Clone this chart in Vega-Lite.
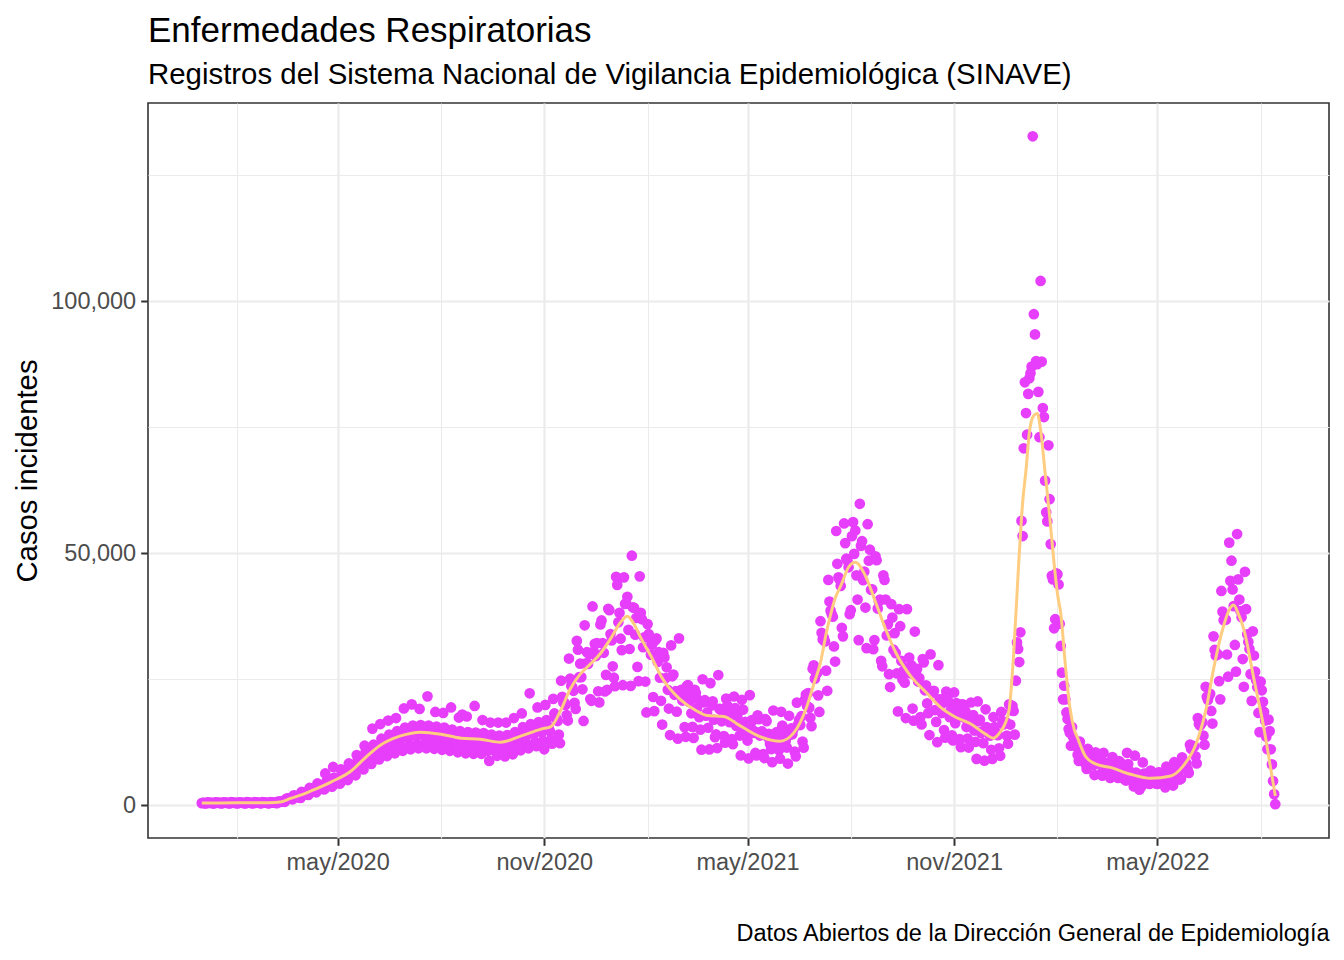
{
  "$schema": "https://vega.github.io/schema/vega-lite/v6.json",
  "width": 1181,
  "height": 735,
  "autosize": {"type": "none"},
  "padding": {"left": 148, "top": 103, "right": 15, "bottom": 122},
  "background": "white",
  "config": {
    "font": "Liberation Sans",
    "view": {"stroke": "#333333", "strokeWidth": 1.6}
  },
  "title": {
    "text": "Enfermedades Respiratorias",
    "subtitle": "Registros del Sistema Nacional de Vigilancia Epidemiológica (SINAVE)",
    "anchor": "start",
    "frame": "group",
    "font": "Liberation Sans",
    "fontSize": 35,
    "fontWeight": "normal",
    "color": "#000000",
    "subtitleFont": "Liberation Sans",
    "subtitleFontSize": 29.4,
    "subtitleColor": "#000000",
    "subtitlePadding": 12,
    "offset": 14
  },
  "datasets": {
    "pts": [
      {"d":"2020-01-01","n":420},{"d":"2020-01-02","n":480},{"d":"2020-01-03","n":470},{"d":"2020-01-04","n":390},{"d":"2020-01-05","n":350},{"d":"2020-01-06","n":560},{"d":"2020-01-07","n":520},{"d":"2020-01-08","n":490},{"d":"2020-01-09","n":470},{"d":"2020-01-10","n":450},{"d":"2020-01-11","n":380},{"d":"2020-01-12","n":350},{"d":"2020-01-13","n":580},{"d":"2020-01-14","n":530},{"d":"2020-01-15","n":500},{"d":"2020-01-16","n":480},{"d":"2020-01-17","n":460},{"d":"2020-01-18","n":400},{"d":"2020-01-19","n":360},{"d":"2020-01-20","n":590},{"d":"2020-01-21","n":540},{"d":"2020-01-22","n":510},{"d":"2020-01-23","n":490},{"d":"2020-01-24","n":470},{"d":"2020-01-25","n":400},{"d":"2020-01-26","n":360},{"d":"2020-01-27","n":600},{"d":"2020-01-28","n":550},{"d":"2020-01-29","n":510},{"d":"2020-01-30","n":490},{"d":"2020-01-31","n":470},
      {"d":"2020-02-01","n":400},{"d":"2020-02-02","n":360},{"d":"2020-02-03","n":590},{"d":"2020-02-04","n":540},{"d":"2020-02-05","n":500},{"d":"2020-02-06","n":480},{"d":"2020-02-07","n":470},{"d":"2020-02-08","n":400},{"d":"2020-02-09","n":370},{"d":"2020-02-10","n":600},{"d":"2020-02-11","n":550},{"d":"2020-02-12","n":510},{"d":"2020-02-13","n":490},{"d":"2020-02-14","n":470},{"d":"2020-02-15","n":410},{"d":"2020-02-16","n":370},{"d":"2020-02-17","n":610},{"d":"2020-02-18","n":560},{"d":"2020-02-19","n":520},{"d":"2020-02-20","n":500},{"d":"2020-02-21","n":480},{"d":"2020-02-22","n":410},{"d":"2020-02-23","n":380},{"d":"2020-02-24","n":620},{"d":"2020-02-25","n":570},{"d":"2020-02-26","n":530},{"d":"2020-02-27","n":510},{"d":"2020-02-28","n":490},{"d":"2020-02-29","n":420},
      {"d":"2020-03-01","n":380},{"d":"2020-03-02","n":640},{"d":"2020-03-03","n":580},{"d":"2020-03-04","n":540},{"d":"2020-03-05","n":530},{"d":"2020-03-06","n":520},{"d":"2020-03-07","n":450},{"d":"2020-03-08","n":420},{"d":"2020-03-09","n":720},{"d":"2020-03-10","n":700},{"d":"2020-03-11","n":680},{"d":"2020-03-12","n":720},{"d":"2020-03-13","n":760},{"d":"2020-03-14","n":700},{"d":"2020-03-15","n":680},{"d":"2020-03-16","n":1250},{"d":"2020-03-17","n":1300},{"d":"2020-03-18","n":1350},{"d":"2020-03-19","n":1400},{"d":"2020-03-20","n":1380},{"d":"2020-03-21","n":1250},{"d":"2020-03-22","n":1180},{"d":"2020-03-23","n":1950},{"d":"2020-03-24","n":1850},{"d":"2020-03-25","n":1800},{"d":"2020-03-26","n":1750},{"d":"2020-03-27","n":1700},{"d":"2020-03-28","n":1500},{"d":"2020-03-29","n":1450},{"d":"2020-03-30","n":2650},{"d":"2020-03-31","n":2400},
      {"d":"2020-04-01","n":2320},{"d":"2020-04-02","n":2330},{"d":"2020-04-03","n":2320},{"d":"2020-04-04","n":2110},{"d":"2020-04-05","n":2030},{"d":"2020-04-06","n":3430},{"d":"2020-04-07","n":3140},{"d":"2020-04-08","n":2990},{"d":"2020-04-09","n":3000},{"d":"2020-04-10","n":2980},{"d":"2020-04-11","n":2690},{"d":"2020-04-12","n":2570},{"d":"2020-04-13","n":4320},{"d":"2020-04-14","n":3920},{"d":"2020-04-15","n":3710},{"d":"2020-04-16","n":3700},{"d":"2020-04-17","n":3650},{"d":"2020-04-18","n":3280},{"d":"2020-04-19","n":3120},{"d":"2020-04-20","n":6300},{"d":"2020-04-21","n":4700},{"d":"2020-04-22","n":4430},{"d":"2020-04-23","n":4400},{"d":"2020-04-24","n":4320},{"d":"2020-04-25","n":3860},{"d":"2020-04-26","n":3670},{"d":"2020-04-27","n":7600},{"d":"2020-04-28","n":5490},{"d":"2020-04-29","n":5150},{"d":"2020-04-30","n":5100},
      {"d":"2020-05-01","n":4990},{"d":"2020-05-02","n":4480},{"d":"2020-05-03","n":4270},{"d":"2020-05-04","n":7110},{"d":"2020-05-05","n":6420},{"d":"2020-05-06","n":6050},{"d":"2020-05-07","n":6000},{"d":"2020-05-08","n":5880},{"d":"2020-05-09","n":5270},{"d":"2020-05-10","n":4990},{"d":"2020-05-11","n":8290},{"d":"2020-05-12","n":7470},{"d":"2020-05-13","n":7000},{"d":"2020-05-14","n":7000},{"d":"2020-05-15","n":6910},{"d":"2020-05-16","n":6220},{"d":"2020-05-17","n":5940},{"d":"2020-05-18","n":9940},{"d":"2020-05-19","n":9000},{"d":"2020-05-20","n":8500},{"d":"2020-05-21","n":8460},{"d":"2020-05-22","n":8320},{"d":"2020-05-23","n":7460},{"d":"2020-05-24","n":7090},{"d":"2020-05-25","n":11810},{"d":"2020-05-26","n":10640},{"d":"2020-05-27","n":9990},{"d":"2020-05-28","n":9900},{"d":"2020-05-29","n":9700},{"d":"2020-05-30","n":8650},{"d":"2020-05-31","n":8190},
      {"d":"2020-06-01","n":15200},{"d":"2020-06-02","n":12000},{"d":"2020-06-03","n":11200},{"d":"2020-06-04","n":11100},{"d":"2020-06-05","n":10800},{"d":"2020-06-06","n":9700},{"d":"2020-06-07","n":9100},{"d":"2020-06-08","n":16100},{"d":"2020-06-09","n":13200},{"d":"2020-06-10","n":12300},{"d":"2020-06-11","n":12100},{"d":"2020-06-12","n":11700},{"d":"2020-06-13","n":10400},{"d":"2020-06-14","n":9750},{"d":"2020-06-15","n":16800},{"d":"2020-06-16","n":14000},{"d":"2020-06-17","n":13100},{"d":"2020-06-18","n":12800},{"d":"2020-06-19","n":12350},{"d":"2020-06-20","n":11000},{"d":"2020-06-21","n":10300},{"d":"2020-06-22","n":17300},{"d":"2020-06-23","n":14700},{"d":"2020-06-24","n":13800},{"d":"2020-06-25","n":13500},{"d":"2020-06-26","n":13100},{"d":"2020-06-27","n":11600},{"d":"2020-06-28","n":10800},{"d":"2020-06-29","n":19200},{"d":"2020-06-30","n":15400},
      {"d":"2020-07-01","n":14300},{"d":"2020-07-02","n":14000},{"d":"2020-07-03","n":13400},{"d":"2020-07-04","n":11900},{"d":"2020-07-05","n":11100},{"d":"2020-07-06","n":20000},{"d":"2020-07-07","n":15800},{"d":"2020-07-08","n":14700},{"d":"2020-07-09","n":14300},{"d":"2020-07-10","n":13700},{"d":"2020-07-11","n":12100},{"d":"2020-07-12","n":11300},{"d":"2020-07-13","n":19100},{"d":"2020-07-14","n":15900},{"d":"2020-07-15","n":14800},{"d":"2020-07-16","n":14400},{"d":"2020-07-17","n":13800},{"d":"2020-07-18","n":12200},{"d":"2020-07-19","n":11300},{"d":"2020-07-20","n":21600},{"d":"2020-07-21","n":15800},{"d":"2020-07-22","n":14700},{"d":"2020-07-23","n":14200},{"d":"2020-07-24","n":13600},{"d":"2020-07-25","n":12000},{"d":"2020-07-26","n":11200},{"d":"2020-07-27","n":18500},{"d":"2020-07-28","n":15600},{"d":"2020-07-29","n":14500},{"d":"2020-07-30","n":14000},{"d":"2020-07-31","n":13400},
      {"d":"2020-08-01","n":11800},{"d":"2020-08-02","n":11000},{"d":"2020-08-03","n":18300},{"d":"2020-08-04","n":15400},{"d":"2020-08-05","n":14300},{"d":"2020-08-06","n":13900},{"d":"2020-08-07","n":13200},{"d":"2020-08-08","n":11600},{"d":"2020-08-09","n":10800},{"d":"2020-08-10","n":19400},{"d":"2020-08-11","n":15000},{"d":"2020-08-12","n":13900},{"d":"2020-08-13","n":13500},{"d":"2020-08-14","n":12900},{"d":"2020-08-15","n":11300},{"d":"2020-08-16","n":10500},{"d":"2020-08-17","n":17400},{"d":"2020-08-18","n":14700},{"d":"2020-08-19","n":13600},{"d":"2020-08-20","n":18000},{"d":"2020-08-21","n":12600},{"d":"2020-08-22","n":11100},{"d":"2020-08-23","n":10300},{"d":"2020-08-24","n":17600},{"d":"2020-08-25","n":14500},{"d":"2020-08-26","n":13500},{"d":"2020-08-27","n":13100},{"d":"2020-08-28","n":12500},{"d":"2020-08-29","n":11000},{"d":"2020-08-30","n":10200},{"d":"2020-08-31","n":19700},
      {"d":"2020-09-01","n":14400},{"d":"2020-09-02","n":13400},{"d":"2020-09-03","n":13000},{"d":"2020-09-04","n":12400},{"d":"2020-09-05","n":11000},{"d":"2020-09-06","n":10200},{"d":"2020-09-07","n":16900},{"d":"2020-09-08","n":14300},{"d":"2020-09-09","n":13200},{"d":"2020-09-10","n":12800},{"d":"2020-09-11","n":12200},{"d":"2020-09-12","n":10800},{"d":"2020-09-13","n":8800},{"d":"2020-09-14","n":16400},{"d":"2020-09-15","n":14000},{"d":"2020-09-16","n":12900},{"d":"2020-09-17","n":12500},{"d":"2020-09-18","n":12000},{"d":"2020-09-19","n":10600},{"d":"2020-09-20","n":9800},{"d":"2020-09-21","n":16400},{"d":"2020-09-22","n":13800},{"d":"2020-09-23","n":12800},{"d":"2020-09-24","n":12400},{"d":"2020-09-25","n":11900},{"d":"2020-09-26","n":10500},{"d":"2020-09-27","n":9700},{"d":"2020-09-28","n":16400},{"d":"2020-09-29","n":13900},{"d":"2020-09-30","n":13000},
      {"d":"2020-10-01","n":12700},{"d":"2020-10-02","n":12200},{"d":"2020-10-03","n":10800},{"d":"2020-10-04","n":10100},{"d":"2020-10-05","n":17300},{"d":"2020-10-06","n":14500},{"d":"2020-10-07","n":13600},{"d":"2020-10-08","n":13400},{"d":"2020-10-09","n":13000},{"d":"2020-10-10","n":11600},{"d":"2020-10-11","n":10900},{"d":"2020-10-12","n":18200},{"d":"2020-10-13","n":15500},{"d":"2020-10-14","n":14400},{"d":"2020-10-15","n":14200},{"d":"2020-10-16","n":13700},{"d":"2020-10-17","n":12100},{"d":"2020-10-18","n":11300},{"d":"2020-10-19","n":22200},{"d":"2020-10-20","n":16100},{"d":"2020-10-21","n":14900},{"d":"2020-10-22","n":14600},{"d":"2020-10-23","n":14100},{"d":"2020-10-24","n":12500},{"d":"2020-10-25","n":11700},{"d":"2020-10-26","n":19400},{"d":"2020-10-27","n":16500},{"d":"2020-10-28","n":15300},{"d":"2020-10-29","n":15000},{"d":"2020-10-30","n":14500},{"d":"2020-10-31","n":12800},
      {"d":"2020-11-01","n":11100},{"d":"2020-11-02","n":19900},{"d":"2020-11-03","n":16900},{"d":"2020-11-04","n":15700},{"d":"2020-11-05","n":15300},{"d":"2020-11-06","n":14700},{"d":"2020-11-07","n":13000},{"d":"2020-11-08","n":12200},{"d":"2020-11-09","n":21100},{"d":"2020-11-10","n":18200},{"d":"2020-11-11","n":17400},{"d":"2020-11-12","n":17100},{"d":"2020-11-13","n":16700},{"d":"2020-11-14","n":14000},{"d":"2020-11-15","n":12300},{"d":"2020-11-16","n":24700},{"d":"2020-11-17","n":21500},{"d":"2020-11-18","n":20400},{"d":"2020-11-19","n":20300},{"d":"2020-11-20","n":19900},{"d":"2020-11-21","n":17900},{"d":"2020-11-22","n":16800},{"d":"2020-11-23","n":29100},{"d":"2020-11-24","n":25100},{"d":"2020-11-25","n":23700},{"d":"2020-11-26","n":23400},{"d":"2020-11-27","n":22700},{"d":"2020-11-28","n":20300},{"d":"2020-11-29","n":19100},{"d":"2020-11-30","n":32600},
      {"d":"2020-12-01","n":30850},{"d":"2020-12-02","n":25390},{"d":"2020-12-03","n":28080},{"d":"2020-12-04","n":25410},{"d":"2020-12-05","n":23000},{"d":"2020-12-06","n":16720},{"d":"2020-12-07","n":35700},{"d":"2020-12-08","n":28120},{"d":"2020-12-09","n":30350},{"d":"2020-12-10","n":28030},{"d":"2020-12-11","n":30020},{"d":"2020-12-12","n":21060},{"d":"2020-12-13","n":20710},{"d":"2020-12-14","n":39430},{"d":"2020-12-15","n":30500},{"d":"2020-12-16","n":32030},{"d":"2020-12-17","n":29590},{"d":"2020-12-18","n":32160},{"d":"2020-12-19","n":22610},{"d":"2020-12-20","n":20400},{"d":"2020-12-21","n":35850},{"d":"2020-12-22","n":36650},{"d":"2020-12-23","n":32140},{"d":"2020-12-24","n":30240},{"d":"2020-12-25","n":22560},{"d":"2020-12-26","n":25860},{"d":"2020-12-27","n":22900},{"d":"2020-12-28","n":38970},{"d":"2020-12-29","n":38690},{"d":"2020-12-30","n":33950},{"d":"2020-12-31","n":32700},
      {"d":"2021-01-01","n":27560},{"d":"2021-01-02","n":25300},{"d":"2021-01-03","n":23610},{"d":"2021-01-04","n":45300},{"d":"2021-01-05","n":43710},{"d":"2021-01-06","n":36290},{"d":"2021-01-07","n":38150},{"d":"2021-01-08","n":33030},{"d":"2021-01-09","n":30770},{"d":"2021-01-10","n":23810},{"d":"2021-01-11","n":45200},{"d":"2021-01-12","n":39950},{"d":"2021-01-13","n":40000},{"d":"2021-01-14","n":41340},{"d":"2021-01-15","n":34780},{"d":"2021-01-16","n":30990},{"d":"2021-01-17","n":23670},{"d":"2021-01-18","n":49500},{"d":"2021-01-19","n":39240},{"d":"2021-01-20","n":39170},{"d":"2021-01-21","n":33850},{"d":"2021-01-22","n":37170},{"d":"2021-01-23","n":27440},{"d":"2021-01-24","n":24620},{"d":"2021-01-25","n":45400},{"d":"2021-01-26","n":38180},{"d":"2021-01-27","n":36890},{"d":"2021-01-28","n":31340},{"d":"2021-01-29","n":33280},{"d":"2021-01-30","n":24540},{"d":"2021-01-31","n":18400},
      {"d":"2021-02-01","n":35930},{"d":"2021-02-02","n":33950},{"d":"2021-02-03","n":33070},{"d":"2021-02-04","n":29880},{"d":"2021-02-05","n":31830},{"d":"2021-02-06","n":21470},{"d":"2021-02-07","n":18670},{"d":"2021-02-08","n":32760},{"d":"2021-02-09","n":33080},{"d":"2021-02-10","n":28420},{"d":"2021-02-11","n":30350},{"d":"2021-02-12","n":25290},{"d":"2021-02-13","n":20710},{"d":"2021-02-14","n":16000},{"d":"2021-02-15","n":30230},{"d":"2021-02-16","n":29330},{"d":"2021-02-17","n":25220},{"d":"2021-02-18","n":27360},{"d":"2021-02-19","n":22900},{"d":"2021-02-20","n":19180},{"d":"2021-02-21","n":13920},{"d":"2021-02-22","n":31710},{"d":"2021-02-23","n":25580},{"d":"2021-02-24","n":25920},{"d":"2021-02-25","n":21900},{"d":"2021-02-26","n":22620},{"d":"2021-02-27","n":18550},{"d":"2021-02-28","n":13210},
      {"d":"2021-03-01","n":33100},{"d":"2021-03-02","n":22320},{"d":"2021-03-03","n":22880},{"d":"2021-03-04","n":20760},{"d":"2021-03-05","n":22350},{"d":"2021-03-06","n":15490},{"d":"2021-03-07","n":13570},{"d":"2021-03-08","n":23660},{"d":"2021-03-09","n":23840},{"d":"2021-03-10","n":20480},{"d":"2021-03-11","n":21920},{"d":"2021-03-12","n":18240},{"d":"2021-03-13","n":15550},{"d":"2021-03-14","n":13360},{"d":"2021-03-15","n":22880},{"d":"2021-03-16","n":22260},{"d":"2021-03-17","n":19210},{"d":"2021-03-18","n":20930},{"d":"2021-03-19","n":17480},{"d":"2021-03-20","n":14990},{"d":"2021-03-21","n":11010},{"d":"2021-03-22","n":24990},{"d":"2021-03-23","n":20380},{"d":"2021-03-24","n":20840},{"d":"2021-03-25","n":17770},{"d":"2021-03-26","n":18380},{"d":"2021-03-27","n":15370},{"d":"2021-03-28","n":11070},{"d":"2021-03-29","n":24230},{"d":"2021-03-30","n":19790},{"d":"2021-03-31","n":20600},
      {"d":"2021-04-01","n":16960},{"d":"2021-04-02","n":13490},{"d":"2021-04-03","n":14040},{"d":"2021-04-04","n":11350},{"d":"2021-04-05","n":25830},{"d":"2021-04-06","n":19100},{"d":"2021-04-07","n":19070},{"d":"2021-04-08","n":16650},{"d":"2021-04-09","n":18380},{"d":"2021-04-10","n":13720},{"d":"2021-04-11","n":12420},{"d":"2021-04-12","n":21150},{"d":"2021-04-13","n":19800},{"d":"2021-04-14","n":19190},{"d":"2021-04-15","n":16460},{"d":"2021-04-16","n":17630},{"d":"2021-04-17","n":13100},{"d":"2021-04-18","n":12100},{"d":"2021-04-19","n":21570},{"d":"2021-04-20","n":19280},{"d":"2021-04-21","n":15740},{"d":"2021-04-22","n":17750},{"d":"2021-04-23","n":15880},{"d":"2021-04-24","n":13820},{"d":"2021-04-25","n":9870},{"d":"2021-04-26","n":20910},{"d":"2021-04-27","n":18970},{"d":"2021-04-28","n":15250},{"d":"2021-04-29","n":16540},{"d":"2021-04-30","n":14740},
      {"d":"2021-05-01","n":12830},{"d":"2021-05-02","n":9300},{"d":"2021-05-03","n":21840},{"d":"2021-05-04","n":16300},{"d":"2021-05-05","n":16900},{"d":"2021-05-06","n":14350},{"d":"2021-05-07","n":14690},{"d":"2021-05-08","n":10370},{"d":"2021-05-09","n":9870},{"d":"2021-05-10","n":17840},{"d":"2021-05-11","n":17060},{"d":"2021-05-12","n":13820},{"d":"2021-05-13","n":14540},{"d":"2021-05-14","n":14630},{"d":"2021-05-15","n":10140},{"d":"2021-05-16","n":9360},{"d":"2021-05-17","n":17070},{"d":"2021-05-18","n":16680},{"d":"2021-05-19","n":13490},{"d":"2021-05-20","n":14180},{"d":"2021-05-21","n":12190},{"d":"2021-05-22","n":11130},{"d":"2021-05-23","n":8530},{"d":"2021-05-24","n":18790},{"d":"2021-05-25","n":14100},{"d":"2021-05-26","n":14140},{"d":"2021-05-27","n":14520},{"d":"2021-05-28","n":12280},{"d":"2021-05-29","n":10920},{"d":"2021-05-30","n":9220},{"d":"2021-05-31","n":18530},
      {"d":"2021-06-01","n":15790},{"d":"2021-06-02","n":12930},{"d":"2021-06-03","n":14140},{"d":"2021-06-04","n":12710},{"d":"2021-06-05","n":11450},{"d":"2021-06-06","n":8270},{"d":"2021-06-07","n":17750},{"d":"2021-06-08","n":14010},{"d":"2021-06-09","n":15230},{"d":"2021-06-10","n":14110},{"d":"2021-06-11","n":15120},{"d":"2021-06-12","n":10620},{"d":"2021-06-13","n":9700},{"d":"2021-06-14","n":20350},{"d":"2021-06-15","n":16000},{"d":"2021-06-16","n":16950},{"d":"2021-06-17","n":15910},{"d":"2021-06-18","n":17660},{"d":"2021-06-19","n":12640},{"d":"2021-06-20","n":11420},{"d":"2021-06-21","n":20930},{"d":"2021-06-22","n":21950},{"d":"2021-06-23","n":19700},{"d":"2021-06-24","n":22250},{"d":"2021-06-25","n":19360},{"d":"2021-06-26","n":17370},{"d":"2021-06-27","n":15690},{"d":"2021-06-28","n":27060},{"d":"2021-06-29","n":27770},{"d":"2021-06-30","n":25120},
      {"d":"2021-07-01","n":26300},{"d":"2021-07-02","n":26200},{"d":"2021-07-03","n":21800},{"d":"2021-07-04","n":18500},{"d":"2021-07-05","n":36500},{"d":"2021-07-06","n":34200},{"d":"2021-07-07","n":32900},{"d":"2021-07-08","n":33200},{"d":"2021-07-09","n":32500},{"d":"2021-07-10","n":26700},{"d":"2021-07-11","n":22700},{"d":"2021-07-12","n":44700},{"d":"2021-07-13","n":40400},{"d":"2021-07-14","n":38600},{"d":"2021-07-15","n":37900},{"d":"2021-07-16","n":37400},{"d":"2021-07-17","n":31500},{"d":"2021-07-18","n":28500},{"d":"2021-07-19","n":54400},{"d":"2021-07-20","n":47900},{"d":"2021-07-21","n":45200},{"d":"2021-07-22","n":44800},{"d":"2021-07-23","n":43500},{"d":"2021-07-24","n":35200},{"d":"2021-07-25","n":33500},{"d":"2021-07-26","n":55900},{"d":"2021-07-27","n":52000},{"d":"2021-07-28","n":48900},{"d":"2021-07-29","n":48500},{"d":"2021-07-30","n":47200},{"d":"2021-07-31","n":37900},
      {"d":"2021-08-01","n":38690},{"d":"2021-08-02","n":53380},{"d":"2021-08-03","n":56160},{"d":"2021-08-04","n":49860},{"d":"2021-08-05","n":54500},{"d":"2021-08-06","n":45600},{"d":"2021-08-07","n":40800},{"d":"2021-08-08","n":32760},{"d":"2021-08-09","n":59800},{"d":"2021-08-10","n":51450},{"d":"2021-08-11","n":52380},{"d":"2021-08-12","n":44650},{"d":"2021-08-13","n":46360},{"d":"2021-08-14","n":39220},{"d":"2021-08-15","n":31160},{"d":"2021-08-16","n":55740},{"d":"2021-08-17","n":48500},{"d":"2021-08-18","n":50690},{"d":"2021-08-19","n":42750},{"d":"2021-08-20","n":42840},{"d":"2021-08-21","n":30940},{"d":"2021-08-22","n":32760},{"d":"2021-08-23","n":49390},{"d":"2021-08-24","n":48600},{"d":"2021-08-25","n":39010},{"d":"2021-08-26","n":40400},{"d":"2021-08-27","n":40810},{"d":"2021-08-28","n":28640},{"d":"2021-08-29","n":27560},{"d":"2021-08-30","n":45590},{"d":"2021-08-31","n":44690},
      {"d":"2021-09-01","n":40810},{"d":"2021-09-02","n":33670},{"d":"2021-09-03","n":35880},{"d":"2021-09-04","n":26000},{"d":"2021-09-05","n":23440},{"d":"2021-09-06","n":39900},{"d":"2021-09-07","n":37230},{"d":"2021-09-08","n":30850},{"d":"2021-09-09","n":34130},{"d":"2021-09-10","n":30180},{"d":"2021-09-11","n":26140},{"d":"2021-09-12","n":18610},{"d":"2021-09-13","n":38890},{"d":"2021-09-14","n":35510},{"d":"2021-09-15","n":28640},{"d":"2021-09-16","n":24960},{"d":"2021-09-17","n":26680},{"d":"2021-09-18","n":24310},{"d":"2021-09-19","n":17290},{"d":"2021-09-20","n":38900},{"d":"2021-09-21","n":27300},{"d":"2021-09-22","n":29300},{"d":"2021-09-23","n":26170},{"d":"2021-09-24","n":27760},{"d":"2021-09-25","n":19180},{"d":"2021-09-26","n":16770},{"d":"2021-09-27","n":34450},{"d":"2021-09-28","n":26230},{"d":"2021-09-29","n":27040},{"d":"2021-09-30","n":24540},
      {"d":"2021-10-01","n":25230},{"d":"2021-10-02","n":17480},{"d":"2021-10-03","n":16020},{"d":"2021-10-04","n":29000},{"d":"2021-10-05","n":28340},{"d":"2021-10-06","n":22800},{"d":"2021-10-07","n":23770},{"d":"2021-10-08","n":20200},{"d":"2021-10-09","n":18270},{"d":"2021-10-10","n":13920},{"d":"2021-10-11","n":29920},{"d":"2021-10-12","n":22560},{"d":"2021-10-13","n":22320},{"d":"2021-10-14","n":22680},{"d":"2021-10-15","n":18880},{"d":"2021-10-16","n":16540},{"d":"2021-10-17","n":12510},{"d":"2021-10-18","n":27800},{"d":"2021-10-19","n":21000},{"d":"2021-10-20","n":21010},{"d":"2021-10-21","n":18290},{"d":"2021-10-22","n":20270},{"d":"2021-10-23","n":14900},{"d":"2021-10-24","n":13390},{"d":"2021-10-25","n":22560},{"d":"2021-10-26","n":21210},{"d":"2021-10-27","n":20460},{"d":"2021-10-28","n":17480},{"d":"2021-10-29","n":18820},{"d":"2021-10-30","n":13870},{"d":"2021-10-31","n":12860},
      {"d":"2021-11-01","n":22370},{"d":"2021-11-02","n":16280},{"d":"2021-11-03","n":20280},{"d":"2021-11-04","n":17460},{"d":"2021-11-05","n":18860},{"d":"2021-11-06","n":13110},{"d":"2021-11-07","n":11530},{"d":"2021-11-08","n":20020},{"d":"2021-11-09","n":19950},{"d":"2021-11-10","n":17350},{"d":"2021-11-11","n":18680},{"d":"2021-11-12","n":15510},{"d":"2021-11-13","n":13230},{"d":"2021-11-14","n":11450},{"d":"2021-11-15","n":16550},{"d":"2021-11-16","n":20380},{"d":"2021-11-17","n":16390},{"d":"2021-11-18","n":17880},{"d":"2021-11-19","n":14820},{"d":"2021-11-20","n":12550},{"d":"2021-11-21","n":9190},{"d":"2021-11-22","n":20580},{"d":"2021-11-23","n":16660},{"d":"2021-11-24","n":16960},{"d":"2021-11-25","n":14290},{"d":"2021-11-26","n":14650},{"d":"2021-11-27","n":12300},{"d":"2021-11-28","n":8840},{"d":"2021-11-29","n":19030},{"d":"2021-11-30","n":15520},
      {"d":"2021-12-01","n":14600},{"d":"2021-12-02","n":14300},{"d":"2021-12-03","n":13800},{"d":"2021-12-04","n":11000},{"d":"2021-12-05","n":9200},{"d":"2021-12-06","n":17500},{"d":"2021-12-07","n":15500},{"d":"2021-12-08","n":14400},{"d":"2021-12-09","n":14200},{"d":"2021-12-10","n":13900},{"d":"2021-12-11","n":11300},{"d":"2021-12-12","n":9800},{"d":"2021-12-13","n":18500},{"d":"2021-12-14","n":16700},{"d":"2021-12-15","n":16000},{"d":"2021-12-16","n":16300},{"d":"2021-12-17","n":16500},{"d":"2021-12-18","n":13800},{"d":"2021-12-19","n":12200},{"d":"2021-12-20","n":20000},{"d":"2021-12-21","n":16000},{"d":"2021-12-22","n":18800},{"d":"2021-12-23","n":19700},{"d":"2021-12-24","n":18700},{"d":"2021-12-25","n":14000},{"d":"2021-12-26","n":24700},{"d":"2021-12-27","n":32300},{"d":"2021-12-28","n":31000},{"d":"2021-12-29","n":28400},{"d":"2021-12-30","n":34300},{"d":"2021-12-31","n":56400},
      {"d":"2022-01-01","n":53400},{"d":"2022-01-02","n":70800},{"d":"2022-01-03","n":83900},{"d":"2022-01-04","n":77800},{"d":"2022-01-05","n":73500},{"d":"2022-01-06","n":81600},{"d":"2022-01-07","n":84700},{"d":"2022-01-08","n":85700},{"d":"2022-01-09","n":87000},{"d":"2022-01-10","n":132700},{"d":"2022-01-11","n":97400},{"d":"2022-01-12","n":93400},{"d":"2022-01-13","n":88100},{"d":"2022-01-14","n":87500},{"d":"2022-01-15","n":82000},{"d":"2022-01-16","n":73000},{"d":"2022-01-17","n":104000},{"d":"2022-01-18","n":88000},{"d":"2022-01-19","n":78800},{"d":"2022-01-20","n":77000},{"d":"2022-01-21","n":64400},{"d":"2022-01-22","n":58100},{"d":"2022-01-23","n":56300},{"d":"2022-01-24","n":71400},{"d":"2022-01-25","n":60700},{"d":"2022-01-26","n":51800},{"d":"2022-01-27","n":45500},{"d":"2022-01-28","n":44800},{"d":"2022-01-29","n":35100},{"d":"2022-01-30","n":36900},{"d":"2022-01-31","n":46000},
      {"d":"2022-02-01","n":45800},{"d":"2022-02-02","n":43800},{"d":"2022-02-03","n":36000},{"d":"2022-02-04","n":31600},{"d":"2022-02-05","n":26300},{"d":"2022-02-06","n":21000},{"d":"2022-02-07","n":23700},{"d":"2022-02-08","n":21000},{"d":"2022-02-09","n":18400},{"d":"2022-02-10","n":17100},{"d":"2022-02-11","n":15100},{"d":"2022-02-12","n":14400},{"d":"2022-02-13","n":11800},{"d":"2022-02-14","n":15500},{"d":"2022-02-15","n":13500},{"d":"2022-02-16","n":12800},{"d":"2022-02-17","n":12200},{"d":"2022-02-18","n":11600},{"d":"2022-02-19","n":10000},{"d":"2022-02-20","n":8800},{"d":"2022-02-21","n":12600},{"d":"2022-02-22","n":11100},{"d":"2022-02-23","n":10500},{"d":"2022-02-24","n":10100},{"d":"2022-02-25","n":9700},{"d":"2022-02-26","n":8200},{"d":"2022-02-27","n":7200},{"d":"2022-02-28","n":11200},
      {"d":"2022-03-01","n":10490},{"d":"2022-03-02","n":8740},{"d":"2022-03-03","n":9460},{"d":"2022-03-04","n":8630},{"d":"2022-03-05","n":7960},{"d":"2022-03-06","n":5990},{"d":"2022-03-07","n":10510},{"d":"2022-03-08","n":8370},{"d":"2022-03-09","n":9030},{"d":"2022-03-10","n":8230},{"d":"2022-03-11","n":8750},{"d":"2022-03-12","n":6300},{"d":"2022-03-13","n":5860},{"d":"2022-03-14","n":10390},{"d":"2022-03-15","n":8280},{"d":"2022-03-16","n":8420},{"d":"2022-03-17","n":7660},{"d":"2022-03-18","n":8280},{"d":"2022-03-19","n":5890},{"d":"2022-03-20","n":5410},{"d":"2022-03-21","n":6920},{"d":"2022-03-22","n":9560},{"d":"2022-03-23","n":7840},{"d":"2022-03-24","n":8320},{"d":"2022-03-25","n":6960},{"d":"2022-03-26","n":6060},{"d":"2022-03-27","n":5410},{"d":"2022-03-28","n":8740},{"d":"2022-03-29","n":8530},{"d":"2022-03-30","n":7280},{"d":"2022-03-31","n":7850},
      {"d":"2022-04-01","n":7000},{"d":"2022-04-02","n":5120},{"d":"2022-04-03","n":4890},{"d":"2022-04-04","n":10400},{"d":"2022-04-05","n":8180},{"d":"2022-04-06","n":6460},{"d":"2022-04-07","n":6630},{"d":"2022-04-08","n":5640},{"d":"2022-04-09","n":5250},{"d":"2022-04-10","n":3720},{"d":"2022-04-11","n":9830},{"d":"2022-04-12","n":6490},{"d":"2022-04-13","n":6060},{"d":"2022-04-14","n":3800},{"d":"2022-04-15","n":3070},{"d":"2022-04-16","n":4370},{"d":"2022-04-17","n":3780},{"d":"2022-04-18","n":8500},{"d":"2022-04-19","n":6270},{"d":"2022-04-20","n":6220},{"d":"2022-04-21","n":5280},{"d":"2022-04-22","n":5780},{"d":"2022-04-23","n":4410},{"d":"2022-04-24","n":4210},{"d":"2022-04-25","n":6860},{"d":"2022-04-26","n":6460},{"d":"2022-04-27","n":6150},{"d":"2022-04-28","n":5210},{"d":"2022-04-29","n":5620},{"d":"2022-04-30","n":4270},
      {"d":"2022-05-01","n":4240},{"d":"2022-05-02","n":6510},{"d":"2022-05-03","n":6450},{"d":"2022-05-04","n":5530},{"d":"2022-05-05","n":5230},{"d":"2022-05-06","n":4940},{"d":"2022-05-07","n":4490},{"d":"2022-05-08","n":3550},{"d":"2022-05-09","n":7670},{"d":"2022-05-10","n":5680},{"d":"2022-05-11","n":6370},{"d":"2022-05-12","n":5450},{"d":"2022-05-13","n":5660},{"d":"2022-05-14","n":4980},{"d":"2022-05-15","n":3910},{"d":"2022-05-16","n":8530},{"d":"2022-05-17","n":6790},{"d":"2022-05-18","n":7190},{"d":"2022-05-19","n":6270},{"d":"2022-05-20","n":6630},{"d":"2022-05-21","n":5100},{"d":"2022-05-22","n":5250},{"d":"2022-05-23","n":9500},{"d":"2022-05-24","n":8400},{"d":"2022-05-25","n":8100},{"d":"2022-05-26","n":8200},{"d":"2022-05-27","n":8300},{"d":"2022-05-28","n":7100},{"d":"2022-05-29","n":6400},{"d":"2022-05-30","n":12000},{"d":"2022-05-31","n":11200},
      {"d":"2022-06-01","n":11700},{"d":"2022-06-02","n":11800},{"d":"2022-06-03","n":11700},{"d":"2022-06-04","n":9700},{"d":"2022-06-05","n":8300},{"d":"2022-06-06","n":17300},{"d":"2022-06-07","n":16100},{"d":"2022-06-08","n":15800},{"d":"2022-06-09","n":16200},{"d":"2022-06-10","n":16500},{"d":"2022-06-11","n":13800},{"d":"2022-06-12","n":12000},{"d":"2022-06-13","n":23500},{"d":"2022-06-14","n":21500},{"d":"2022-06-15","n":20900},{"d":"2022-06-16","n":21700},{"d":"2022-06-17","n":22100},{"d":"2022-06-18","n":18700},{"d":"2022-06-19","n":16200},{"d":"2022-06-20","n":33500},{"d":"2022-06-21","n":30800},{"d":"2022-06-22","n":29700},{"d":"2022-06-23","n":30100},{"d":"2022-06-24","n":29900},{"d":"2022-06-25","n":24600},{"d":"2022-06-26","n":21000},{"d":"2022-06-27","n":42500},{"d":"2022-06-28","n":38400},{"d":"2022-06-29","n":36700},{"d":"2022-06-30","n":37000},
      {"d":"2022-07-01","n":36800},{"d":"2022-07-02","n":29900},{"d":"2022-07-03","n":25500},{"d":"2022-07-04","n":52100},{"d":"2022-07-05","n":44500},{"d":"2022-07-06","n":48500},{"d":"2022-07-07","n":42800},{"d":"2022-07-08","n":39500},{"d":"2022-07-09","n":31800},{"d":"2022-07-10","n":26500},{"d":"2022-07-11","n":53800},{"d":"2022-07-12","n":44800},{"d":"2022-07-13","n":40800},{"d":"2022-07-14","n":38500},{"d":"2022-07-15","n":37300},{"d":"2022-07-16","n":29000},{"d":"2022-07-17","n":23500},{"d":"2022-07-18","n":46300},{"d":"2022-07-19","n":38900},{"d":"2022-07-20","n":33900},{"d":"2022-07-21","n":32400},{"d":"2022-07-22","n":31000},{"d":"2022-07-23","n":26000},{"d":"2022-07-24","n":20700},{"d":"2022-07-25","n":34500},{"d":"2022-07-26","n":29700},{"d":"2022-07-27","n":26500},{"d":"2022-07-28","n":24800},{"d":"2022-07-29","n":23400},{"d":"2022-07-30","n":18300},{"d":"2022-07-31","n":14500},
      {"d":"2022-08-01","n":24500},{"d":"2022-08-02","n":22800},{"d":"2022-08-03","n":20500},{"d":"2022-08-04","n":18500},{"d":"2022-08-05","n":16800},{"d":"2022-08-06","n":13600},{"d":"2022-08-07","n":11100},{"d":"2022-08-08","n":17000},{"d":"2022-08-09","n":14700},{"d":"2022-08-10","n":11100},{"d":"2022-08-11","n":8100},{"d":"2022-08-12","n":4800},{"d":"2022-08-13","n":2200},{"d":"2022-08-14","n":200}
    ],
    "fit": [
      {"d":"2020-01-01","s":450},{"d":"2020-02-01","s":470},{"d":"2020-03-01","s":490},{"d":"2020-03-11","s":650},{"d":"2020-03-20","s":1350},{"d":"2020-03-31","s":2150},{"d":"2020-04-07","s":2800},{"d":"2020-04-25","s":4600},{"d":"2020-05-13","s":6800},{"d":"2020-05-26","s":9500},{"d":"2020-06-08","s":11900},{"d":"2020-06-26","s":13750},{"d":"2020-07-14","s":14500},{"d":"2020-08-01","s":14100},{"d":"2020-08-19","s":13300},{"d":"2020-09-05","s":13100},{"d":"2020-09-23","s":12500},{"d":"2020-10-11","s":13700},{"d":"2020-10-29","s":15100},{"d":"2020-11-07","s":15600},{"d":"2020-11-16","s":19000},{"d":"2020-11-24","s":23000},{"d":"2020-12-03","s":26000},{"d":"2020-12-12","s":28000},{"d":"2020-12-21","s":30100},{"d":"2020-12-30","s":33000},
      {"d":"2021-01-08","s":36300},{"d":"2021-01-14","s":37500},{"d":"2021-01-20","s":35900},{"d":"2021-01-26","s":33200},{"d":"2021-02-04","s":29600},{"d":"2021-02-13","s":25600},{"d":"2021-03-02","s":21000},{"d":"2021-03-16","s":18800},{"d":"2021-03-26","s":17800},{"d":"2021-04-10","s":17600},{"d":"2021-04-22","s":16100},{"d":"2021-05-10","s":13800},{"d":"2021-05-30","s":12700},{"d":"2021-06-11","s":14300},{"d":"2021-06-23","s":19700},{"d":"2021-06-29","s":24000},{"d":"2021-07-05","s":28300},{"d":"2021-07-10","s":34000},{"d":"2021-07-14","s":37800},{"d":"2021-07-18","s":41000},{"d":"2021-07-23","s":43500},{"d":"2021-07-30","s":47200},{"d":"2021-08-05","s":48200},{"d":"2021-08-14","s":45500},{"d":"2021-08-23","s":40300},{"d":"2021-09-01","s":34900},{"d":"2021-09-10","s":30300},{"d":"2021-09-23","s":25700},{"d":"2021-10-07","s":22400},{"d":"2021-10-20","s":19400},{"d":"2021-11-02","s":17500},{"d":"2021-11-16","s":16100},{"d":"2021-11-29","s":14100},{"d":"2021-12-06","s":13300},{"d":"2021-12-12","s":14500},{"d":"2021-12-16","s":16000},{"d":"2021-12-20","s":19000},{"d":"2021-12-24","s":30000},{"d":"2021-12-28","s":46000},
      {"d":"2022-01-01","s":60000},{"d":"2022-01-04","s":66500},{"d":"2022-01-07","s":74000},{"d":"2022-01-11","s":77300},{"d":"2022-01-14","s":77700},{"d":"2022-01-17","s":74500},{"d":"2022-01-21","s":66000},{"d":"2022-01-25","s":57500},{"d":"2022-01-29","s":48000},{"d":"2022-02-01","s":42000},{"d":"2022-02-04","s":38000},{"d":"2022-02-08","s":28000},{"d":"2022-02-12","s":19500},{"d":"2022-02-16","s":15000},{"d":"2022-02-19","s":13300},{"d":"2022-02-26","s":9700},{"d":"2022-03-08","s":8100},{"d":"2022-03-20","s":7500},{"d":"2022-04-07","s":6150},{"d":"2022-04-25","s":5350},{"d":"2022-05-13","s":5800},{"d":"2022-05-24","s":7800},{"d":"2022-06-05","s":12500},{"d":"2022-06-14","s":19700},{"d":"2022-06-20","s":27000},{"d":"2022-06-29","s":35600},{"d":"2022-07-04","s":38800},{"d":"2022-07-08","s":39700},{"d":"2022-07-12","s":38000},{"d":"2022-07-17","s":34900},{"d":"2022-07-26","s":25000},{"d":"2022-08-04","s":15100},{"d":"2022-08-09","s":8500},{"d":"2022-08-14","s":1850}
    ]
  },
  "layer": [
    {
      "data": {"name": "pts"},
      "mark": {"type": "circle", "size": 115, "color": "#E63EFB", "opacity": 1},
      "encoding": {
        "x": {
          "field": "d",
          "type": "temporal",
          "scale": {
            "type": "utc",
            "domain": [
              {"year": 2019, "month": 11, "date": 14, "hours": 3, "utc": true},
              {"year": 2022, "month": 9, "date": 30, "hours": 20, "utc": true}
            ]
          },
          "axis": {
            "title": "Datos Abiertos de la Dirección General de Epidemiología",
            "titleAnchor": "end",
            "titleFontSize": 23.5,
            "titleFontWeight": "normal",
            "titleColor": "#000000",
            "titlePadding": 48,
            "values": [
              {"year": 2020, "month": 2, "date": 1, "utc": true},
              {"year": 2020, "month": 5, "date": 1, "utc": true},
              {"year": 2020, "month": 8, "date": 1, "utc": true},
              {"year": 2020, "month": 11, "date": 1, "utc": true},
              {"year": 2021, "month": 2, "date": 1, "utc": true},
              {"year": 2021, "month": 5, "date": 1, "utc": true},
              {"year": 2021, "month": 8, "date": 1, "utc": true},
              {"year": 2021, "month": 11, "date": 1, "utc": true},
              {"year": 2022, "month": 2, "date": 1, "utc": true},
              {"year": 2022, "month": 5, "date": 1, "utc": true},
              {"year": 2022, "month": 8, "date": 1, "utc": true}
            ],
            "labelExpr": "utcmonth(datum.value) == 4 ? 'may/' + utcyear(datum.value) : utcmonth(datum.value) == 10 ? 'nov/' + utcyear(datum.value) : ''",
            "labelFontSize": 23.5,
            "labelColor": "#4D4D4D",
            "labelPadding": 5,
            "labelOverlap": false,
            "labelFlush": false,
            "tickSize": 7.3,
            "tickWidth": 2,
            "tickColor": {"condition": {"test": "utcmonth(datum.value) == 1 || utcmonth(datum.value) == 7", "value": "transparent"}, "value": "#333333"},
            "gridColor": "#EBEBEB",
            "gridWidth": {"condition": {"test": "utcmonth(datum.value) == 1 || utcmonth(datum.value) == 7", "value": 1.1}, "value": 2.2},
            "domain": false
          }
        },
        "y": {
          "field": "n",
          "type": "quantitative",
          "scale": {"domain": [-6500, 139300], "nice": false, "zero": false},
          "axis": {
            "title": "Casos incidentes",
            "titleFontSize": 29.3,
            "titleFontWeight": "normal",
            "titleColor": "#000000",
            "titlePadding": 8,
            "values": [0, 25000, 50000, 75000, 100000, 125000],
            "labelExpr": "datum.value % 50000 == 0 ? format(datum.value, ',') : ''",
            "labelFontSize": 23.5,
            "labelColor": "#4D4D4D",
            "labelPadding": 5,
            "tickSize": 7.3,
            "tickWidth": 2,
            "tickColor": {"condition": {"test": "datum.value % 50000 != 0", "value": "transparent"}, "value": "#333333"},
            "gridColor": "#EBEBEB",
            "gridWidth": {"condition": {"test": "datum.value % 50000 != 0", "value": 1.1}, "value": 2.2},
            "domain": false
          }
        }
      }
    },
    {
      "data": {"name": "fit"},
      "mark": {"type": "line", "color": "#FFCC80", "strokeWidth": 3, "interpolate": "monotone"},
      "encoding": {
        "x": {"field": "d", "type": "temporal", "axis": {"title": "Datos Abiertos de la Dirección General de Epidemiología"}},
        "y": {"field": "s", "type": "quantitative", "axis": {"title": "Casos incidentes"}}
      }
    }
  ]
}
